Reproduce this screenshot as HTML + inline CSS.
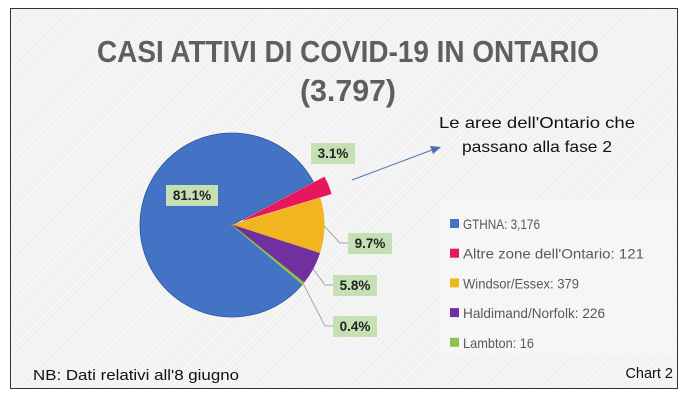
<!DOCTYPE html>
<html><head><meta charset="utf-8">
<style>
html,body{margin:0;padding:0;background:#fff;}
body{width:688px;height:402px;overflow:hidden;font-family:"Liberation Sans",sans-serif;}
</style></head>
<body>
<svg id="chart" width="688" height="402" viewBox="0 0 688 402" xmlns="http://www.w3.org/2000/svg">
<defs>
<pattern id="hatch" width="4" height="4" patternUnits="userSpaceOnUse" patternTransform="rotate(45)">
<rect width="4" height="4" fill="#f5f5f5"/><line x1="0" y1="0" x2="0" y2="4" stroke="#ebebeb" stroke-width="1.5"/>
</pattern>
</defs>
<rect x="10.5" y="8.5" width="667" height="380" fill="url(#hatch)" stroke="#333" stroke-width="1"/>
<rect x="440" y="200" width="236" height="158" fill="#fbfbfb" opacity="0.4"/>
<g fill="#5f5f5f" font-weight="bold" font-size="31" text-anchor="middle">
<text x="348" y="62" textLength="502" lengthAdjust="spacingAndGlyphs">CASI ATTIVI DI COVID-19 IN ONTARIO</text>
<text x="348" y="101" textLength="96" lengthAdjust="spacingAndGlyphs">(3.797)</text>
</g>
<g font-size="16" fill="#111" text-anchor="middle">
<text x="537" y="128" textLength="196" lengthAdjust="spacingAndGlyphs">Le aree dell'Ontario che</text>
<text x="537" y="152" textLength="150" lengthAdjust="spacingAndGlyphs">passano alla fase 2</text>
</g>
<g stroke="#4a6fb0" stroke-width="1" fill="#4a6fb0">
<line x1="352" y1="180" x2="432" y2="150"/>
<polygon points="441,147 430,146 433,154" stroke="none"/>
</g>
<g id="pie"></g>
<g id="labels"></g>
<g id="legend"></g>
<text x="33" y="380" font-size="14.5" fill="#111" textLength="206" lengthAdjust="spacingAndGlyphs">NB: Dati relativi all'8 giugno</text>
<text x="673" y="378" font-size="14.5" fill="#111" text-anchor="end">Chart 2</text>
</svg>
<script>
const categories = ["GTHNA","Altre zone dell'Ontario","Windsor/Essex","Haldimand/Norfolk","Lambton"];
const values = [3176,121,379,226,16];
const pctLabels = ["81.1%","3.1%","9.7%","5.8%","0.4%"];
const legendLabels = ["GTHNA: 3,176","Altre zone dell'Ontario: 121","Windsor/Essex: 379","Haldimand/Norfolk: 226","Lambton: 16"];
const colors = ["#4472c4","#e8175d","#f0b51f","#7030a0","#8fc04f"];
const explode = [0,12,0,0,0];
const labelPos = [[192,195],[333,153],[370,243],[355,285],[355,326]];

const NS="http://www.w3.org/2000/svg";
const cx=232, cy=225, r=92;
const total=values.reduce((a,b)=>a+b,0);
const pie=document.getElementById('pie'), labels=document.getElementById('labels'), legend=document.getElementById('legend');
function pt(a,rad,ox,oy){return [ox+rad*Math.cos(a), oy+rad*Math.sin(a)];}
let startPink=-28*Math.PI/180;
let start=startPink-values[0]/total*2*Math.PI;
let a=start;
const mids=[];
values.forEach((v,i)=>{
  const sweep=v/total*2*Math.PI;
  const a0=a, a1=a+sweep, mid=(a0+a1)/2;
  const ox=cx+explode[i]*Math.cos(mid), oy=cy+explode[i]*Math.sin(mid);
  const p0=pt(a0,r,ox,oy), p1=pt(a1,r,ox,oy);
  const path=document.createElementNS(NS,'path');
  path.setAttribute('d',`M${ox},${oy} L${p0[0]},${p0[1]} A${r},${r} 0 ${sweep>Math.PI?1:0} 1 ${p1[0]},${p1[1]} Z`);
  path.setAttribute('fill',colors[i]);
  path.setAttribute('stroke',i===0?'#2f5597':colors[i]);
  path.setAttribute('stroke-width','0.8');
  
  
  pie.appendChild(path);
  mids.push([mid,ox,oy]);
  a=a1;
});
values.forEach((v,i)=>{
  const [lx,ly]=labelPos[i];
  if(i>=2){
    const [mid,ox,oy]=mids[i];
    const e=pt(mid,r,ox,oy);
    const ln=document.createElementNS(NS,'polyline');
    ln.setAttribute('points',`${e[0]},${e[1]} ${lx-30},${ly} ${lx-22},${ly}`);
    ln.setAttribute('fill','none');ln.setAttribute('stroke','#a6a6a6');ln.setAttribute('stroke-width','1');
    
    
    labels.appendChild(ln);
  }
  const w=pctLabels[i].length>4?52:44;
  const rect=document.createElementNS(NS,'rect');
  rect.setAttribute('x',lx-w/2);rect.setAttribute('y',ly-10);rect.setAttribute('width',w);rect.setAttribute('height',21);
  rect.setAttribute('fill','#c5e0b4');
  
  
  labels.appendChild(rect);
  const t=document.createElementNS(NS,'text');
  t.setAttribute('x',lx);t.setAttribute('y',ly+5);t.setAttribute('text-anchor','middle');
  t.setAttribute('font-size','13.5');t.setAttribute('font-weight','bold');t.setAttribute('fill','#222');
  t.textContent=pctLabels[i];
  
  
  labels.appendChild(t);
});
legendLabels.forEach((s,i)=>{
  const y=224+i*29.7;
  const g=document.createElementNS(NS,'g');
  
  
  const sq=document.createElementNS(NS,'rect');
  sq.setAttribute('x',450);sq.setAttribute('y',y-5);sq.setAttribute('width',9);sq.setAttribute('height',9);sq.setAttribute('fill',colors[i]);
  
  
  const t=document.createElementNS(NS,'text');
  t.setAttribute('x',463);t.setAttribute('y',y+5);t.setAttribute('font-size','14');t.setAttribute('fill','#595959');
  t.setAttribute('textLength',String(Math.round(s.length*6.45)));
  t.setAttribute('lengthAdjust','spacingAndGlyphs');
  t.textContent=s;
  
  
  g.appendChild(sq);g.appendChild(t);legend.appendChild(g);
});
</script>
</body></html>
